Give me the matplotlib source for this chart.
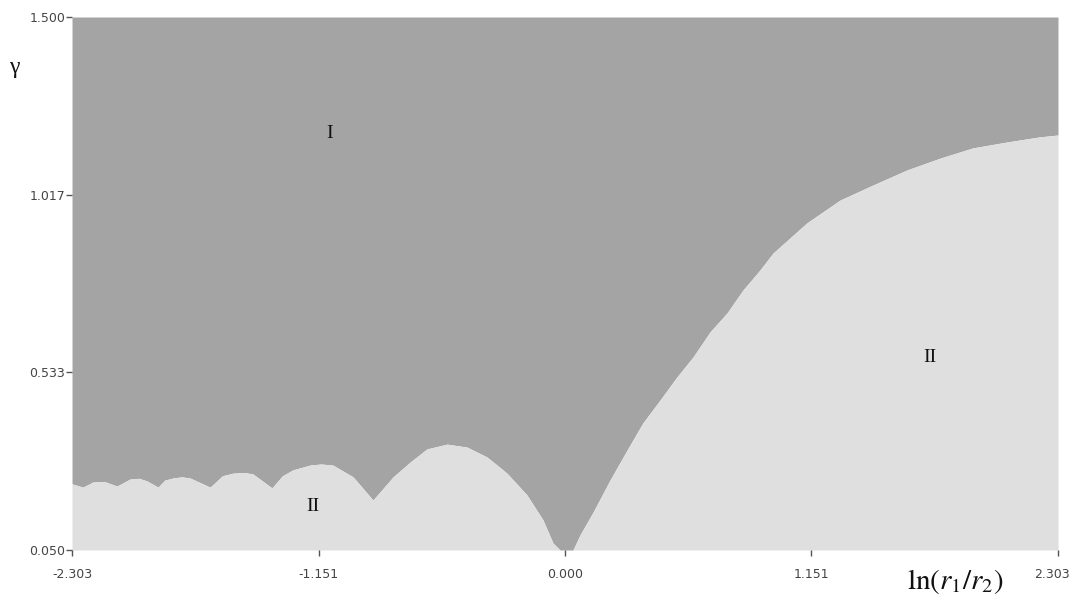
import matplotlib
matplotlib.use("Agg")
import matplotlib.pyplot as plt
from matplotlib.transforms import ScaledTranslation

# Boundary between region I (above) and region II (below)
ln_ratio = [-2.303, -2.252, -2.205, -2.150, -2.093, -2.032, -1.990, -1.953, -1.901, -1.870,
            -1.831, -1.790, -1.752, -1.658, -1.600, -1.551, -1.500, -1.458, -1.369, -1.320,
            -1.271, -1.191, -1.140, -1.084, -0.990, -0.897,
            -0.803, -0.724, -0.645, -0.551, -0.458, -0.364, -0.271, -0.178, -0.103,
            -0.056, -0.023, 0.037, 0.070, 0.131, 0.210, 0.290, 0.364, 0.444, 0.523,
            0.598, 0.677, 0.757, 0.831, 0.911, 0.972, 1.130, 1.285, 1.439, 1.598,
            1.752, 1.906, 2.065, 2.219, 2.303]
gamma_boundary = [0.230, 0.221, 0.235, 0.236, 0.224, 0.243, 0.245, 0.238, 0.221, 0.240,
                  0.246, 0.249, 0.246, 0.221, 0.252, 0.259, 0.261, 0.257, 0.219, 0.252,
                  0.268, 0.281, 0.284, 0.281, 0.249, 0.186,
                  0.249, 0.289, 0.325, 0.338, 0.330, 0.303, 0.259, 0.200, 0.132,
                  0.069, 0.050, 0.050, 0.091, 0.153, 0.240, 0.322, 0.396, 0.458, 0.521,
                  0.575, 0.643, 0.695, 0.757, 0.812, 0.858, 0.940, 1.002, 1.043, 1.084,
                  1.116, 1.144, 1.160, 1.174, 1.179]

x_ticks = [-2.303, -1.151, 0.000, 1.151, 2.303]
x_tick_labels = ["-2.303", "-1.151", "0.000", "1.151", "2.303"]
y_ticks = [0.050, 0.533, 1.017, 1.500]
y_tick_labels = ["0.050", "0.533", "1.017", "1.500"]

region_labels = ["I", "II", "II"]
region_x = [-1.098, -1.177, 1.705]
region_y = [1.184, 0.167, 0.575]

x_min, x_max = -2.303, 2.303
y_min, y_max = 0.050, 1.500

fig = plt.figure(figsize=(10.72, 6.02), dpi=100)
ax = fig.add_axes([72 / 1072, 52 / 602, 986 / 1072, 533 / 602])

dark = "#a4a4a4"
light = "#dfdfdf"

ax.fill_between(ln_ratio, gamma_boundary, y_max, color=dark, linewidth=0)
ax.fill_between(ln_ratio, y_min, gamma_boundary, color=light, linewidth=0)

ax.set_xlim(x_min, x_max)
ax.set_ylim(y_min, y_max)
for s in ax.spines.values():
    s.set_visible(False)

ax.set_xticks(x_ticks)
ax.set_xticklabels(x_tick_labels)
ax.set_yticks(y_ticks)
ax.set_yticklabels(y_tick_labels)
ax.tick_params(axis="both", direction="out", length=4, width=1, color="#555555",
               labelsize=9, labelcolor="#444444")
ax.tick_params(axis="x", pad=9)
ax.tick_params(axis="y", pad=1)

# keep the last x tick label inside the figure edge
last = ax.get_xticklabels()[-1]
last.set_horizontalalignment("right")
last.set_transform(last.get_transform() + ScaledTranslation(12 / 100, 0, fig.dpi_scale_trans))

serif = ["Liberation Serif", "DejaVu Serif"]
for t, x, y in zip(region_labels, region_x, region_y):
    ax.text(x, y, t, ha="center", va="center", fontsize=14, family=serif, color="#111111")

fig.text(14 / 1072, 1 - 68 / 602, "γ", ha="center", va="center", fontsize=17,
         family=serif, color="#111111")

plt.rcParams["mathtext.fontset"] = "stix"
fig.text(955 / 1072, 1 - 582 / 602, r"$\mathrm{ln}(r_1/r_2)$", ha="center", va="center",
         fontsize=21, color="#111111")

fig.savefig("out.png", dpi=100, facecolor="white")
